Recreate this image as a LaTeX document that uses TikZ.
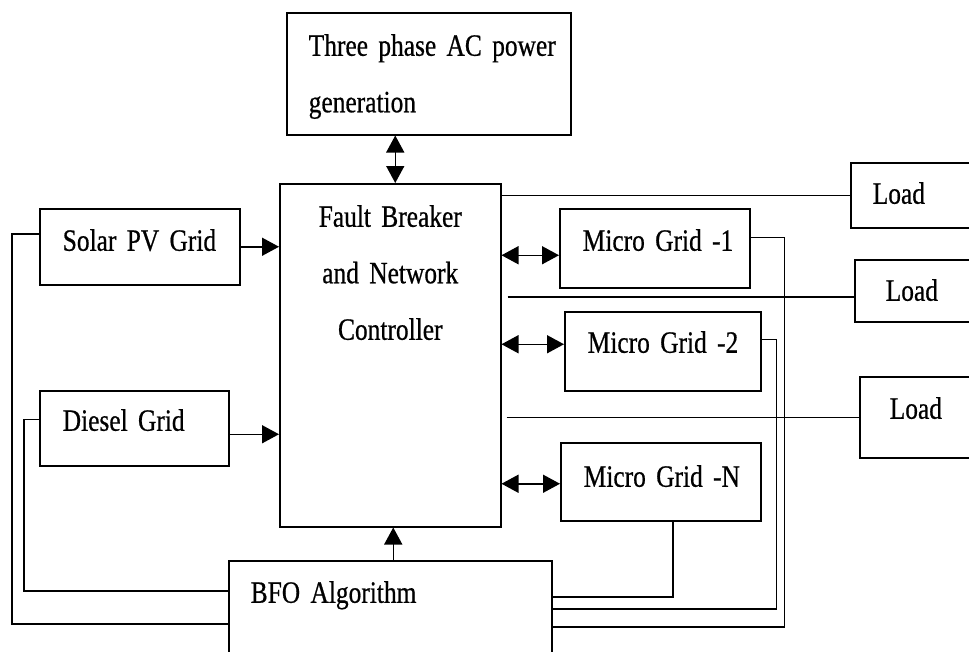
\documentclass[tikz,border=0pt]{standalone}
\usepackage{fontspec}
\setmainfont{Liberation Serif}[FakeStretch=0.82, FakeBold=0.6]
\usetikzlibrary{arrows.meta}

\begin{document}
\begin{tikzpicture}[
  x=1pt, y=-1pt,
  blk/.style={draw, rectangle, line width=1.5pt, anchor=north west, inner ysep=0pt, align=left, font={\fontsize{31pt}{56.5pt}\selectfont}},
  >={Triangle[length=17pt,width=18pt]}, line width=1.5pt
]
\clip (0,0) rectangle (969,651);
\node[blk, inner xsep=22pt, text width=240pt, text height=43pt, text depth=79pt] (tpac) at (286,12) {\mbox{Three phase AC power}\\generation};
\node[blk, align=center, inner xsep=10pt, text width=201pt, text height=43pt, text depth=300pt] (fbnc) at (279,183) {Fault Breaker\\and Network\\Controller};
\node[blk, inner xsep=23pt, text width=154pt, text height=42pt, text depth=34pt] (solar) at (39,208) {\mbox{Solar PV Grid}};
\node[blk, inner xsep=23pt, text width=143pt, text height=40pt, text depth=35pt] (diesel) at (39,390) {\mbox{Diesel Grid}};
\node[blk, inner xsep=23pt, text width=144pt, text height=42pt, text depth=37pt] (mg1) at (559,208) {\mbox{Micro Grid -1}};
\node[blk, inner xsep=23pt, text width=150pt, text height=41pt, text depth=38pt] (mg2) at (564,311) {\mbox{Micro Grid -2}};
\node[blk, inner xsep=23pt, text width=154pt, text height=44pt, text depth=34pt] (mgn) at (560,442) {\mbox{Micro Grid -N}};
\node[blk, inner xsep=22pt, text width=96pt, text height=41pt, text depth=24pt] (load1) at (850,162) {Load};
\node[blk, inner xsep=31pt, text width=78pt, text height=41pt, text depth=21pt] (load2) at (854,259) {Load};
\node[blk, inner xsep=30pt, text width=80pt, text height=42pt, text depth=39pt] (load3) at (859,376) {Load};
\node[blk, inner xsep=22pt, text width=279pt, text height=42pt, text depth=78pt] (bfo) at (228,560) {\mbox{BFO Algorithm}};

\draw[<->] ([xshift=5pt]fbnc.north |- tpac.south) -- ([xshift=5pt]fbnc.north);
\draw[->] ([xshift=3pt]fbnc.south |- bfo.north) -- ([xshift=3pt]fbnc.south);
\draw[->] (solar.east) -- (solar.east -| fbnc.west);
\draw[->] ([yshift=-6pt]diesel.east) -- ([yshift=-6pt]diesel.east -| fbnc.west);
\draw[<->] ([yshift=-7pt]mg1.west -| fbnc.east) -- ([yshift=-7pt]mg1.west);
\draw[<->] ([yshift=7pt]mg2.west -| fbnc.east) -- ([yshift=7pt]mg2.west);
\draw[<->] ([yshift=-2pt]mgn.west -| fbnc.east) -- ([yshift=-2pt]mgn.west);
\draw (load1.west -| fbnc.east) -- (load1.west);
\draw ([xshift=6pt,yshift=-6pt]load2.west -| fbnc.east) -- ([yshift=-6pt]load2.west);
\draw ([xshift=5pt]load3.west -| fbnc.east) -- (load3.west);
\draw ([yshift=11pt]mg1.east) -- ++(34,0) |- ([yshift=-6pt]bfo.east);
\draw ([yshift=12pt]mg2.east) -- ++(15,0) |- ([yshift=12pt]bfo.east);
\draw ([xshift=12pt]mgn.south) |- ([yshift=24pt]bfo.east);
\draw ([yshift=13pt]solar.west) -- ++(-27,0) |- ([yshift=-3pt]bfo.west);
\draw ([yshift=9pt]diesel.west) -- ++(-15,0) |- ([yshift=30pt]bfo.west);
\end{tikzpicture}
\end{document}
